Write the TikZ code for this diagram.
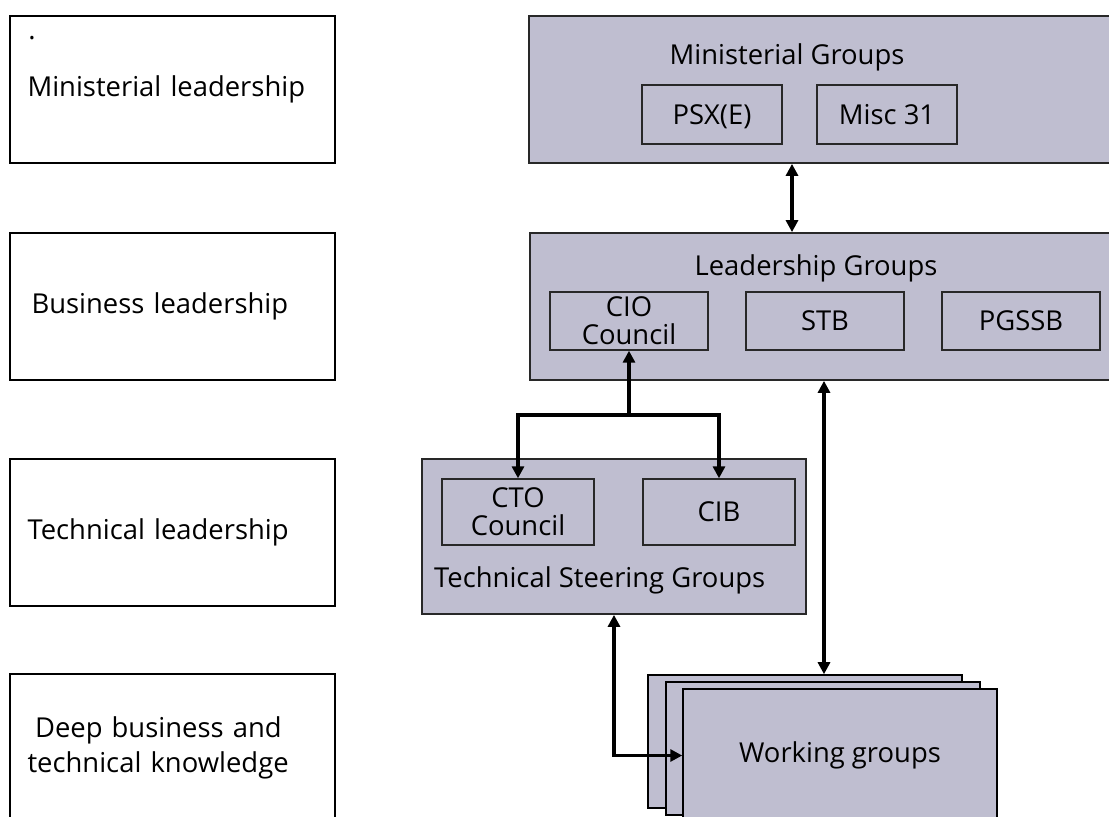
\documentclass[tikz,border=0pt]{standalone}
\usepackage{fontspec}
\setmainfont{Open Sans}
\usetikzlibrary{arrows.meta,positioning}
\definecolor{groupfill}{RGB}{191,190,208}
\definecolor{edge}{RGB}{40,40,40}
\tikzset{
  level/.style={draw=black, line width=0.9pt, minimum width=6.5cm, minimum height=2.94cm, text width=5.8cm, inner xsep=0.35cm, align=left, font=\fontsize{15.6}{20}\selectfont},
  group/.style={draw=edge, fill=groupfill, line width=1pt, inner sep=0pt},
  member/.style={draw=edge, line width=0.8pt, inner sep=0pt, align=center, font=\fontsize{15.6}{16}\selectfont},
  onerow/.style={member, text height=11.2pt, text depth=0pt},
  stack/.style={draw=black, fill=groupfill, line width=0.9pt, minimum width=6.28cm, minimum height=2.66cm, inner sep=0pt, font=\fontsize{15.6}{18}\selectfont},
  title/.style={font=\fontsize{15.6}{18}\selectfont},
  link/.style={{Triangle[length=2.4mm,width=2.4mm]}-{Triangle[length=2.4mm,width=2.4mm]}, line width=1.9pt},
  oneway/.style={-{Triangle[length=2.4mm,width=2.4mm]}, line width=1.9pt}
}
\begin{document}
\begin{tikzpicture}[x=0.02cm, y=-0.02cm]
\clip (0,0) rectangle (1109,816);
% ---- levels on the left ----
\node[level] (minlead) at (172.5,89.5) {Ministerial leadership};
\node[title, anchor=base] (dot) at (32,39) {.};
\node[level] (buslead) at (172.5,306.5) {\hspace*{0.08cm}Business leadership};
\node[level] (techlead) at (172.5,532.5) {Technical leadership};
\node[level] (deep) at (172.5,747.5) {\hspace*{0.15cm}Deep business and\\technical knowledge};
% ---- ministerial groups ----
\node[group, minimum width=12.02cm, minimum height=2.94cm] (minis) at (829.5,89.5) {};
\node[title] (mintitle) at (787,57) {Ministerial Groups};
\node[onerow, minimum width=2.8cm, minimum height=1.18cm] (psx) at (712,114.5) {PSX(E)};
\node[onerow, minimum width=2.8cm, minimum height=1.18cm] (misc) at (887,114.5) {Misc 31};
% ---- leadership groups ----
\node[group, minimum width=12cm, minimum height=2.94cm] (lead) at (830,306.5) {};
\node[title] (leadtitle) at (816,268) {Leadership Groups};
\node[member, minimum width=3.16cm, minimum height=1.16cm] (cio) at (629,321) {CIO\\Council};
\node[onerow, minimum width=3.16cm, minimum height=1.16cm] (stb) at (825,321) {STB};
\node[onerow, minimum width=3.16cm, minimum height=1.16cm] (pgssb) at (1021,321) {PGSSB};
% ---- technical steering groups ----
\node[group, minimum width=7.68cm, minimum height=3.1cm] (tsg) at (614,536.5) {};
\node[member, minimum width=3.04cm, minimum height=1.32cm] (cto) at (518,512) {CTO\\Council};
\node[onerow, minimum width=3.04cm, minimum height=1.32cm] (cib) at (719,512) {CIB};
\node[title, anchor=west] (tsgtitle) at (428,580) {Technical Steering Groups};
% ---- working groups, three deep ----
\node[stack] (wg1) at (805,741.5) {};
\node[stack] (wg2) at (823,748.5) {};
\node[stack] (wg3) at (840,755.5) {Working groups};
% ---- links ----
\coordinate (mx) at (792,0);
\draw[link] (minis.south -| mx) -- (lead.north -| mx);
\coordinate (split) at (629,415);
\draw[link] (cto.north) |- (split) -| (cib.north);
\draw[oneway] (split) -- (cio.south);
\coordinate (lx) at (824,0);
\draw[link] (lead.south -| lx) -- (wg1.north -| lx);
\draw[link] (tsg.south) |- (wg3.west);
\end{tikzpicture}
\end{document}
